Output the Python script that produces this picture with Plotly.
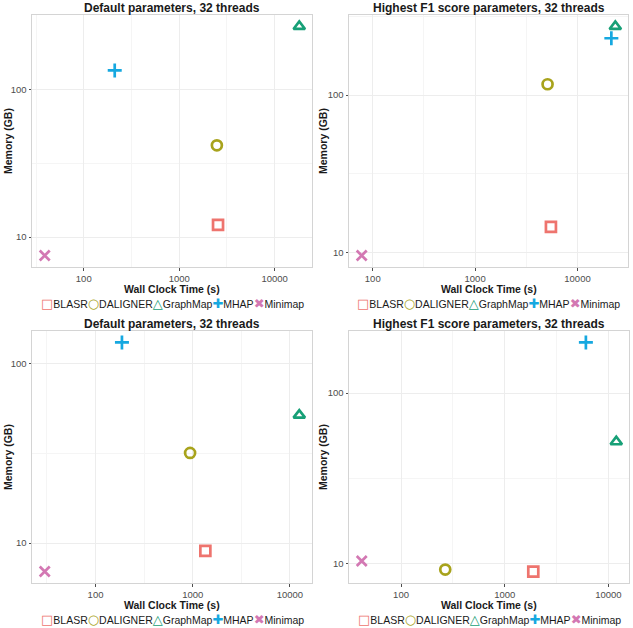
import math
import plotly.graph_objects as go

# ---------------- data ----------------
tools = ["BLASR", "DALIGNER", "GraphMap", "MHAP", "Minimap"]
colors = ["#EE746E", "#A8A31C", "#17A077", "#16A8E0", "#D378B3"]
symbols = ["square-open", "circle-open", "triangle-up-open", "cross-thin", "x-thin"]
legend_glyphs = ["\u25A1", "\u25CB", "\u25B3", "\u271A", "\u2716"]

panel_titles = [
    "Default parameters, 32 threads",
    "Highest F1 score parameters, 32 threads",
    "Default parameters, 32 threads",
    "Highest F1 score parameters, 32 threads",
]

# wall clock time (s) per tool, panel by panel
time_p1 = [2550, 2480, 18100, 211, 39]
time_p2 = [5500, 5100, 23400, 21400, 78]
time_p3 = [1350, 940, 12500, 187, 30]
time_p4 = [1885, 267, 11900, 6060, 41.8]

# memory (GB) per tool, panel by panel
mem_p1 = [12.1, 41.9, 268, 135, 7.5]
mem_p2 = [14.6, 117, 272, 229, 9.6]
mem_p3 = [9.06, 31.8, 51.6, 131, 6.95]
mem_p4 = [9.02, 9.26, 51.9, 198, 10.4]

x_ticks = [10, 100, 1000, 10000, 100000]
y_ticks = [1, 10, 100, 1000]
x_minor = [10 ** 1.5, 10 ** 2.5, 10 ** 3.5, 10 ** 4.5]
y_minor = [10 ** 0.5, 10 ** 1.5, 10 ** 2.5]

x_title = "Wall Clock Time (s)"
y_title = "Memory (GB)"

# ---------------- layout ----------------
W, H = 633, 628
panels = [
    (time_p1, mem_p1, (32, 312), (15, 267)),
    (time_p2, mem_p2, (349, 628), (15, 267)),
    (time_p3, mem_p3, (32, 312), (331, 583)),
    (time_p4, mem_p4, (349, 629), (331, 583)),
]

FONT = "Liberation Sans, Arial, sans-serif"
fig = go.Figure()
annotations = []


def log_range(vals):
    lo, hi = math.log10(min(vals)), math.log10(max(vals))
    pad = (hi - lo) * 0.05
    return [lo - pad, hi + pad]


for i, (tx, my, (px0, px1), (py0, py1)) in enumerate(panels):
    n = "" if i == 0 else str(i + 1)
    xa, ya = "x" + n, "y" + n
    for k, tool in enumerate(tools):
        fig.add_trace(go.Scatter(
            x=[tx[k]], y=[my[k]], mode="markers", name=tool,
            xaxis=xa, yaxis=ya, showlegend=False,
            marker=dict(symbol=symbols[k], size=10, color=colors[k],
                        line=dict(width=2.7, color=colors[k])),
        ))
    axis_common = dict(
        type="log", showline=True, mirror=True, linecolor="#D4D4D4", linewidth=1,
        gridcolor="#EDEDED", gridwidth=1, zeroline=False, automargin=False,
        ticks="outside", ticklen=2.5, tickcolor="#4D4D4D", tickwidth=1,
        tickfont=dict(family=FONT, size=9.5, color="#4D4D4D"),
        tickmode="array",
    )
    fig.layout["xaxis" + n] = dict(
        axis_common, domain=[px0 / W, px1 / W], anchor=ya,
        range=log_range(tx), tickvals=x_ticks, ticktext=[str(v) for v in x_ticks],
        minor=dict(tickmode="array", tickvals=x_minor, showgrid=True,
                   gridcolor="#F5F5F5", ticks=""),
    )
    fig.layout["yaxis" + n] = dict(
        axis_common, domain=[1 - py1 / H, 1 - py0 / H], anchor=xa,
        range=log_range(my), tickvals=y_ticks, ticktext=[str(v) for v in y_ticks],
        minor=dict(tickmode="array", tickvals=y_minor, showgrid=True,
                   gridcolor="#F5F5F5", ticks=""),
    )
    cx = (px0 + px1) / 2 / W
    # panel title
    annotations.append(dict(
        text=panel_titles[i], xref="paper", yref="paper",
        x=cx, y=1 - (py0 - 7) / H, xanchor="center", yanchor="middle",
        showarrow=False, font=dict(family=FONT, size=12, color="#1A1A1A", weight="bold"),
    ))
    # x axis title
    annotations.append(dict(
        text=x_title, xref="paper", yref="paper",
        x=cx, y=1 - (py1 + 22) / H, xanchor="center", yanchor="middle",
        showarrow=False, font=dict(family=FONT, size=10.5, color="#1A1A1A", weight="bold"),
    ))
    # y axis title
    annotations.append(dict(
        text=y_title, xref="paper", yref="paper", textangle=-90,
        x=(px0 - 24 - (2 if i % 2 else 0)) / W, y=1 - (py0 + py1) / 2 / H,
        xanchor="center", yanchor="middle",
        showarrow=False, font=dict(family=FONT, size=10.5, color="#1A1A1A", weight="bold"),
    ))
    # legend (as coloured key glyphs followed by labels)
    parts = []
    for k, tool in enumerate(tools):
        parts.append(
            "<span style='font-family:DejaVu Sans;font-weight:bold;font-size:13px;"
            "fill:%s;color:%s'>%s</span>%s" % (colors[k], colors[k], legend_glyphs[k], tool)
        )
    annotations.append(dict(
        text="".join(parts), xref="paper", yref="paper",
        x=cx, y=1 - (py1 + 36) / H, xanchor="center", yanchor="middle",
        showarrow=False, font=dict(family=FONT, size=10.5, color="#1A1A1A"),
    ))

fig.update_layout(
    template="none",
    width=W, height=H, margin=dict(l=0, r=0, t=0, b=0),
    paper_bgcolor="white", plot_bgcolor="white",
    annotations=annotations, showlegend=False,
)

fig.write_html(
    "out.html",
    config={"displayModeBar": False},
    post_script="document.body.style.margin='0';document.body.style.overflow='hidden';",
)
